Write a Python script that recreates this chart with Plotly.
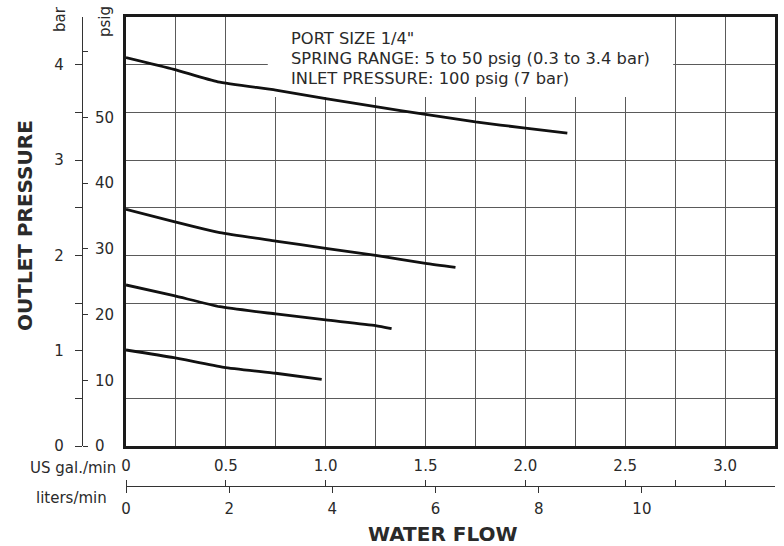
import plotly.graph_objects as go

# ---- data (US gal/min vs outlet pressure in bar) ----
flow_a = [0, 0.24, 0.46, 0.75, 1.0, 1.25, 1.5, 1.75, 2.0, 2.21]
bar_a = [4.075, 3.951, 3.82, 3.734, 3.643, 3.559, 3.479, 3.399, 3.335, 3.283]

flow_b = [0, 0.24, 0.47, 0.75, 1.0, 1.25, 1.5, 1.65]
bar_b = [2.483, 2.353, 2.238, 2.150, 2.074, 2.000, 1.916, 1.874]

flow_c = [0, 0.24, 0.47, 0.75, 1.0, 1.25, 1.33]
bar_c = [1.689, 1.577, 1.461, 1.385, 1.322, 1.262, 1.230]

flow_d = [0, 0.24, 0.49, 0.75, 0.98]
bar_d = [1.007, 0.926, 0.825, 0.763, 0.700]

gal_ticks = [0, 0.5, 1.0, 1.5, 2.0, 2.5, 2.75, 3.0]
gal_labels = ["0", "0.5", "1.0", "1.5", "2.0", "2.5", "", "3.0"]
lpm_ticks = [0, 2, 4, 6, 8, 10]
lpm_labels = ["0", "2", "4", "6", "8", "10"]
bar_ticks = [0, 0.5, 1, 1.5, 2, 2.5, 3, 3.5, 4]
bar_labels = ["0", "", "1", "", "2", "", "3", "", "4"]
psig_ticks = [0, 10, 20, 30, 40, 50, 60]
psig_labels = ["0", "10", "20", "30", "40", "50", ""]

info_lines = [
    'PORT SIZE 1/4"',
    "SPRING RANGE: 5 to 50 psig (0.3 to 3.4 bar)",
    "INLET PRESSURE: 100 psig (7 bar)",
]

FONT = "DejaVu Sans"
TXT = "#2a2a2a"
W, H = 784, 546
ML, MR, MT, MB = 0, 9, 17, 0
pw, ph = W - ML - MR, H - MT - MB

def px_x(p):
    return (p - ML) / pw

def px_y(p):
    return (H - MB - p) / ph

x_dom = [px_x(126), 1.0]
y_dom = [px_y(446), 1.0]
GAL_MAX = 3.25
BAR_MAX = 4.5
PSI_PER_BAR = 14.5038
LPM_MAX = 12.58

fig = go.Figure()
for fx, fy in [(flow_a, bar_a), (flow_b, bar_b), (flow_c, bar_c), (flow_d, bar_d)]:
    fig.add_trace(go.Scatter(x=fx, y=fy, mode="lines",
                             line=dict(color="#111111", width=2.8, shape="spline", smoothing=0.5),
                             showlegend=False, hoverinfo="skip"))

# white box behind the note (hides grid, stays under curves)
fig.add_shape(type="rect", xref="x", yref="y", x0=0.71, x1=2.74, y0=3.66, y1=BAR_MAX,
              fillcolor="white", line=dict(width=0), layer="between")

ann = []
for i, t in enumerate(info_lines):
    ann.append(dict(text=t, xref="paper", yref="paper", x=px_x(289), y=px_y([38, 58.5, 78][i]),
                    xanchor="left", yanchor="middle", showarrow=False,
                    font=dict(family=FONT, size=16.3, color=TXT)))
ann += [
    dict(text="US gal./min", xref="paper", yref="paper", x=px_x(118), y=px_y(468),
         xanchor="right", yanchor="middle", showarrow=False, font=dict(family=FONT, size=15, color=TXT)),
    dict(text="liters/min", xref="paper", yref="paper", x=px_x(109), y=px_y(498),
         xanchor="right", yanchor="middle", showarrow=False, font=dict(family=FONT, size=15, color=TXT)),
    dict(text="<b>WATER FLOW</b>", xref="paper", yref="paper", x=px_x(443), y=px_y(534),
         xanchor="center", yanchor="middle", showarrow=False, font=dict(family=FONT, size=20, color=TXT)),
    dict(text="<b>OUTLET PRESSURE</b>", xref="paper", yref="paper", x=px_x(25), y=px_y(226),
         xanchor="center", yanchor="middle", textangle=-90, showarrow=False,
         font=dict(family=FONT, size=20, color=TXT)),
    dict(text="bar", xref="paper", yref="paper", x=px_x(60), y=px_y(19),
         xanchor="center", yanchor="middle", textangle=-90, showarrow=False,
         font=dict(family=FONT, size=15, color=TXT)),
    dict(text="psig", xref="paper", yref="paper", x=px_x(105), y=px_y(22),
         xanchor="center", yanchor="middle", textangle=-90, showarrow=False,
         font=dict(family=FONT, size=15, color=TXT)),
]

tickfont = dict(family=FONT, size=15, color=TXT)
GRID = "#5a5a5a"
fig.update_layout(
    width=W, height=H, margin=dict(l=ML, r=MR, t=MT, b=MB, autoexpand=False),
    paper_bgcolor="white", plot_bgcolor="white",
    annotations=ann,
    xaxis=dict(domain=x_dom, range=[0, GAL_MAX], dtick=0.25, showticklabels=False, ticks="",
               showgrid=True, gridcolor=GRID, gridwidth=1, zeroline=False, automargin=False,
               showline=True, mirror=True, linecolor="#1a1a1a", linewidth=2.5),
    yaxis=dict(domain=y_dom, range=[0, BAR_MAX], dtick=0.5, showticklabels=False, ticks="",
               showgrid=True, gridcolor=GRID, gridwidth=1, zeroline=False, automargin=False,
               showline=True, mirror=True, linecolor="#1a1a1a", linewidth=2.5),
    xaxis2=dict(overlaying="x", anchor="free", position=px_y(486), side="top",
                range=[0, GAL_MAX], tickmode="array", tickvals=gal_ticks, ticktext=gal_labels,
                ticks="outside", ticklen=6, tickcolor="#333", tickwidth=1.2, tickfont=tickfont,
                ticklabelstandoff=3, automargin=False,
                showline=True, linecolor="#333", linewidth=1.3, showgrid=False, zeroline=False),
    xaxis3=dict(overlaying="x", anchor="free", position=px_y(486), side="bottom",
                range=[0, LPM_MAX], tickmode="array", tickvals=lpm_ticks, ticktext=lpm_labels,
                ticks="outside", ticklen=6, tickcolor="#333", tickwidth=1.2, tickfont=tickfont,
                ticklabelstandoff=3, automargin=False,
                showline=False, showgrid=False, zeroline=False),
    yaxis2=dict(overlaying="y", anchor="free", position=px_x(82), side="left",
                range=[0, BAR_MAX], tickmode="array", tickvals=bar_ticks, ticktext=bar_labels,
                ticks="outside", ticklen=7, tickcolor="#333", tickwidth=1.2, tickfont=tickfont,
                ticklabelstandoff=8, automargin=False,
                showline=True, linecolor="#333", linewidth=1.3, showgrid=False, zeroline=False),
    yaxis3=dict(overlaying="y", anchor="free", position=px_x(82), side="right",
                range=[0, BAR_MAX * PSI_PER_BAR], tickmode="array", tickvals=psig_ticks,
                ticktext=psig_labels, automargin=False,
                ticks="outside", ticklen=5, tickcolor="#333", tickwidth=1.2, tickfont=tickfont,
                ticklabelstandoff=4,
                showline=False, showgrid=False, zeroline=False),
)

# invisible traces so the extra axes render
fig.add_trace(go.Scatter(x=[0], y=[0], xaxis="x2", yaxis="y2", mode="markers",
                         marker=dict(opacity=0), showlegend=False, hoverinfo="skip"))
fig.add_trace(go.Scatter(x=[0], y=[0], xaxis="x3", yaxis="y3", mode="markers",
                         marker=dict(opacity=0), showlegend=False, hoverinfo="skip"))

fig.write_html("out.html", config={"displayModeBar": False},
               post_script="document.body.style.margin='0';")
